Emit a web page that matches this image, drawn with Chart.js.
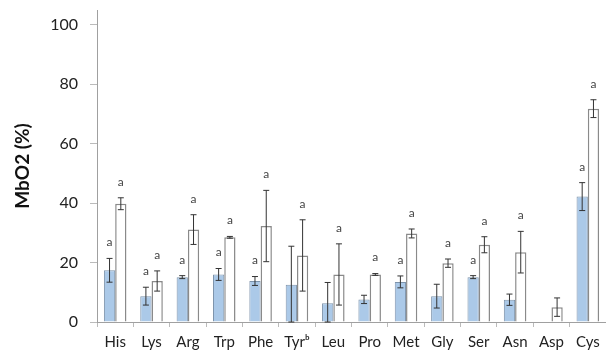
<!DOCTYPE html>
<html>
<head>
<meta charset="utf-8">
<script src="https://cdn.jsdelivr.net/npm/chart.js@4.4.1/dist/chart.umd.min.js"></script>
<style>
  html, body { margin: 0; padding: 0; background: #fff; }
</style>
</head>
<body>
<canvas id="chart" width="606" height="359"></canvas>
<script>
const categories = ['His', 'Lys', 'Arg', 'Trp', 'Phe', 'Tyrᵇ', 'Leu', 'Pro', 'Met', 'Gly', 'Ser', 'Asn', 'Asp', 'Cys'];
const blueValues = [17.4, 8.7, 15.1, 16.0, 13.8, 12.5, 6.3, 7.6, 13.5, 8.7, 15.1, 7.5, 0, 42.2];
const blueErrors = [4, 3, 0.5, 2, 1.5, 13, 7, 1.4, 2, 4, 0.5, 1.9, 0, 4.7];
const whiteValues = [39.8, 13.8, 31.1, 28.5, 32.3, 22.4, 16.0, 16.0, 29.8, 19.8, 26.0, 23.5, 5.0, 71.8];
const whiteErrors = [2, 3.4, 5, 0.3, 12, 12, 10.3, 0.3, 1.5, 1.4, 2.7, 7, 3.1, 3];
const blueLetters = ['a', 'a', 'a', 'a', 'a', '', '', '', 'a', '', 'a', '', '', 'a'];
const whiteLetters = ['a', 'a', 'a', 'a', 'a', 'a', 'a', 'a', 'a', 'a', 'a', 'a', '', 'a'];
const yTicks = [0, 20, 40, 60, 80, 100];

const ctx = document.getElementById('chart').getContext('2d');

// error bars + significance letters, drawn on top of the bars
const errorBars = {
    id: 'errorBars',
    afterDatasetsDraw(chart) {
        const c = chart.ctx;
        const y = chart.scales.y;
        const sets = [[blueErrors, blueLetters], [whiteErrors, whiteLetters]];
        sets.forEach(([errs, letters], i) => {
            const meta = chart.getDatasetMeta(i);
            const values = chart.data.datasets[i].data;
            meta.data.forEach((bar, j) => {
                const v = values[j];
                const e = errs[j];
                let top = y.getPixelForValue(v);
                c.save();
                if (e > 0) {
                    top = y.getPixelForValue(v + e);
                    const bot = y.getPixelForValue(Math.max(0, v - e));
                    c.strokeStyle = '#333';
                    c.lineWidth = 1;
                    c.beginPath();
                    c.moveTo(bar.x, top);
                    c.lineTo(bar.x, bot);
                    c.moveTo(bar.x - 3, top);
                    c.lineTo(bar.x + 3, top);
                    c.moveTo(bar.x - 3, bot);
                    c.lineTo(bar.x + 3, bot);
                    c.stroke();
                }
                if (letters[j]) {
                    c.fillStyle = '#444';
                    c.font = '12px Lato';
                    c.textAlign = 'center';
                    c.textBaseline = 'middle';
                    c.fillText(letters[j], bar.x, top - 16);
                }
                c.restore();
            });
        });
    }
};

new Chart(ctx, {
    type: 'bar',
    data: {
        labels: categories,
        datasets: [
            {
                data: blueValues,
                backgroundColor: '#abc9e8',
                borderColor: '#7d93ab',
                borderWidth: 1,
                categoryPercentage: 0.62,
                barPercentage: 1.0
            },
            {
                data: whiteValues,
                backgroundColor: '#ffffff',
                borderColor: '#8a8a8a',
                borderWidth: 1.5,
                categoryPercentage: 0.62,
                barPercentage: 1.0
            }
        ]
    },
    plugins: [errorBars],
    options: {
        responsive: false,
        animation: false,
        layout: { padding: { top: 0, right: 0, bottom: 0, left: 0 } },
        plugins: {
            legend: { display: false },
            tooltip: { enabled: false }
        },
        scales: {
            x: {
                grid: {
                    drawOnChartArea: false,
                    tickLength: 5,
                    color: '#bbb',
                    offset: true
                },
                border: { color: '#a0a0a0' },
                ticks: {
                    color: '#222',
                    font: { family: 'Lato', size: 15 },
                    padding: 6,
                    maxRotation: 0,
                    autoSkip: false
                },
                afterFit(scale) { scale.height = 37; }
            },
            y: {
                min: 0,
                max: 105,
                afterBuildTicks(scale) {
                    scale.ticks = yTicks.map(v => ({ value: v }));
                },
                grid: {
                    drawOnChartArea: false,
                    tickLength: 7,
                    color: '#bbb'
                },
                border: { color: '#a0a0a0' },
                ticks: {
                    color: '#222',
                    font: { family: 'Lato', size: 16 },
                    padding: 12
                },
                title: {
                    display: true,
                    text: 'MbO2 (%)',
                    color: '#111',
                    font: { family: 'Lato', size: 19, weight: 'bold' },
                    padding: { top: 11, bottom: 0 }
                },
                afterFit(scale) {
                    scale.width = 97;
                    scale.paddingTop = 10;
                }
            }
        }
    }
});
</script>
</body>
</html>
